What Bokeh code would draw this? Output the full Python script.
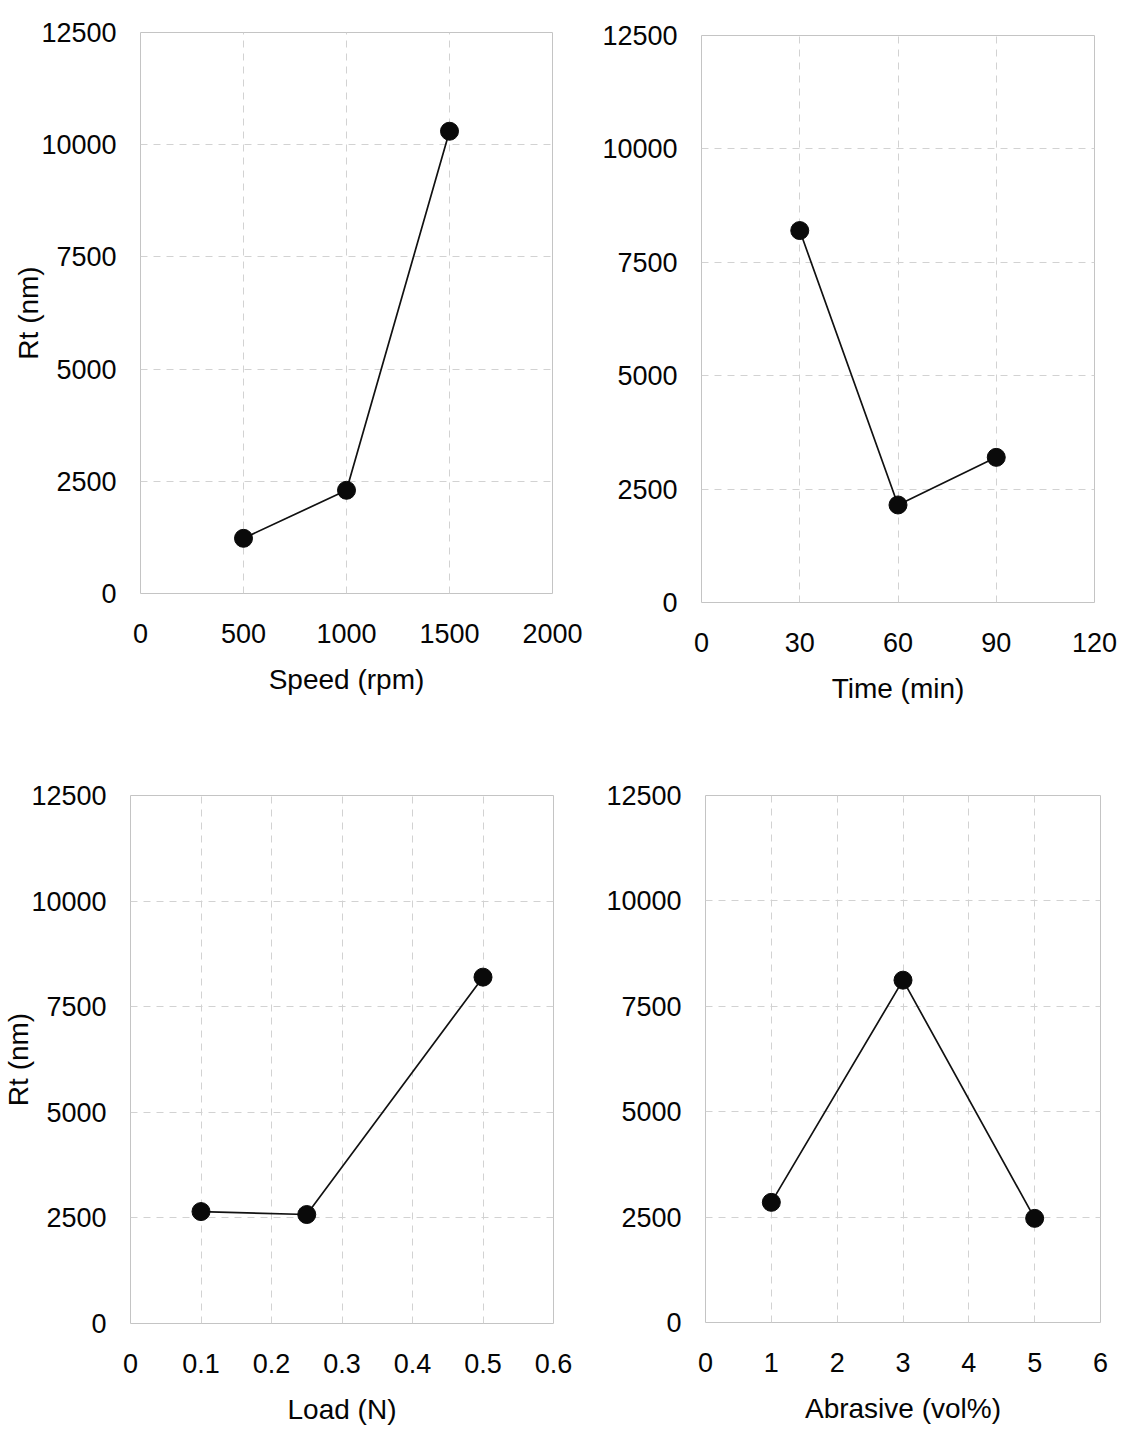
from bokeh.plotting import figure
from bokeh.layouts import column, row
from bokeh.models import FixedTicker, NumeralTickFormatter, Range1d
from bokeh.embed import file_html
from bokeh.resources import INLINE

# Rt roughness response to each process parameter
speed = [500, 1000, 1500]
rt_speed = [1230, 2300, 10300]

time_min = [30, 60, 90]
rt_time = [8200, 2150, 3200]

load = [0.1, 0.25, 0.5]
rt_load = [2650, 2580, 8200]

abrasive = [1, 3, 5]
rt_abrasive = [2850, 8120, 2470]

y_ticks = [0, 2500, 5000, 7500, 10000, 12500]

FONT = "Liberation Sans"
TICK_SIZE = "27px"
LABEL_SIZE = "28px"


def panel(xs, ys, x_max, x_ticks, x_label, y_label, width, height, borders,
          x_format=None):
    left, right, top, bottom = borders
    p = figure(width=width, height=height, output_backend="svg",
               toolbar_location=None, x_range=Range1d(0, x_max),
               y_range=Range1d(0, 12500),
               min_border_left=left, min_border_right=right,
               min_border_top=top, min_border_bottom=bottom)
    p.outline_line_color = "#c4c4c4"
    p.outline_line_width = 1
    p.background_fill_color = "white"
    p.border_fill_color = "white"

    for g in (p.xgrid, p.ygrid):
        g.grid_line_color = "#d2d2d2"
        g.grid_line_dash = "7 6"
        g.grid_line_width = 1

    p.xaxis.ticker = FixedTicker(ticks=x_ticks)
    p.yaxis.ticker = FixedTicker(ticks=y_ticks)
    p.xgrid.ticker = FixedTicker(ticks=x_ticks)
    p.ygrid.ticker = FixedTicker(ticks=y_ticks)
    if x_format:
        p.xaxis.formatter = NumeralTickFormatter(format=x_format)

    for ax in (p.xaxis, p.yaxis):
        ax.axis_line_color = None
        ax.major_tick_line_color = None
        ax.minor_tick_line_color = None
        ax.major_label_text_font = FONT
        ax.major_label_text_font_size = TICK_SIZE
        ax.major_label_text_color = "#050505"
        ax.axis_label_text_font = FONT
        ax.axis_label_text_font_size = LABEL_SIZE
        ax.axis_label_text_font_style = "normal"
        ax.axis_label_text_color = "#050505"

    p.xaxis.major_label_standoff = 24
    p.xaxis.axis_label = x_label
    p.xaxis.axis_label_standoff = 18
    p.yaxis.major_label_standoff = 18
    if y_label:
        p.yaxis.axis_label = y_label
        p.yaxis.axis_label_standoff = -6

    p.line(xs, ys, line_color="#111111", line_width=1.7)
    p.scatter(xs, ys, size=18, marker="circle", fill_color="#0a0a0a",
              line_color="#0a0a0a")
    return p


# right borders leave room for the last x tick label to sit centred on the frame edge
f1 = panel(speed, rt_speed, 2000, [0, 500, 1000, 1500, 2000],
           "Speed (rpm)", "Rt (nm)", 592, 740, (140, 40, 32, 147))
f2 = panel(time_min, rt_time, 120, [0, 30, 60, 90, 120],
           "Time (min)", None, 535, 740, (109, 33, 35, 138))
f3 = panel(load, rt_load, 0.6, [0, 0.1, 0.2, 0.3, 0.4, 0.5, 0.6],
           "Load (N)", "Rt (nm)", 585, 696, (130, 32, 55, 113),
           x_format="0.[0]")
f4 = panel(abrasive, rt_abrasive, 6, [0, 1, 2, 3, 4, 5, 6],
           "Abrasive (vol%)", None, 542, 696, (120, 27, 55, 114))

# each panel sits in its own column so the frames keep their own borders
layout = column(row(column(f1), column(f2)), row(column(f3), column(f4)))

with open("out.html", "w") as fh:
    fh.write(file_html(layout, INLINE))
